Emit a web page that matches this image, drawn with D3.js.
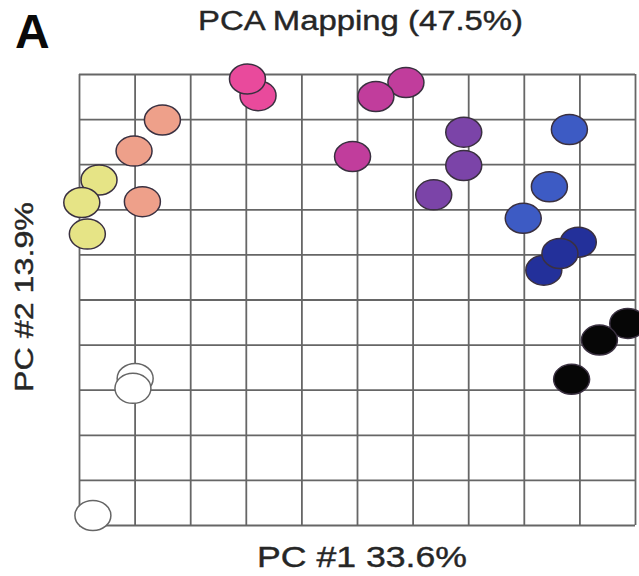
<!DOCTYPE html>
<html>
<head>
<meta charset="utf-8">
<script src="https://cdn.jsdelivr.net/npm/d3@7"></script>
<style>
  html, body { margin: 0; padding: 0; background: #fff; }
  svg { display: block; }
  text { font-family: "Liberation Sans", Arial, Helvetica, sans-serif; }
</style>
</head>
<body>
<svg id="chart" width="639" height="576"></svg>
<script>
// Sample groups and their fill colours
const groupNames  = ["pink", "salmon", "yellow", "magenta", "purple", "blue", "navy", "black", "white"];
const groupColors = ["#e94a9c", "#eea08a", "#e6e486", "#c13d9c", "#7b44a8", "#3d5bc4", "#23309a", "#060606", "#ffffff"];

// Scores per sample (grid units), listed in drawing order
const sampleGroup = [0, 0, 1, 1, 1, 2, 2, 2, 3, 3, 3, 4, 4, 4, 5, 5, 5, 6, 6, 6, 7, 7, 7, 8, 8, 8];
const pc1Scores   = [3.22, 3.03, 1.50, 0.99, 1.14, 0.36, 0.05, 0.15, 5.88, 5.34, 4.92, 6.92, 6.92, 6.38, 8.82, 8.46, 7.99, 8.98, 8.36, 8.65, 9.87, 9.36, 8.86, 1.01, 0.97, 0.25];
const pc2Scores   = [9.52, 9.89, 8.98, 8.29, 7.17, 7.65, 7.15, 6.45, 9.81, 9.50, 8.17, 8.71, 7.97, 7.32, 8.77, 7.50, 6.80, 6.27, 5.65, 6.02, 4.47, 4.10, 3.23, 3.25, 3.03, 0.21];

const gridTicks = d3.range(0, 11);

const titleText = "PCA Mapping (47.5%)";
const xLabel = "PC #1 33.6%";
const yLabel = "PC #2 13.9%";
const panelLabel = "A";

const svg = d3.select("#chart");
const plot = { left: 79, right: 635, top: 74, bottom: 525 };

const x = d3.scaleLinear().domain([0, 10]).range([plot.left, plot.right]);
const y = d3.scaleLinear().domain([0, 10]).range([plot.bottom, plot.top]);

// Grid drawn via axes with full-length ticks and no labels
const gridColor = "#666666";
const gx = svg.append("g")
  .attr("transform", `translate(0,${plot.bottom})`)
  .call(d3.axisBottom(x).tickValues(gridTicks).tickSize(-(plot.bottom - plot.top)).tickFormat(""));
const gy = svg.append("g")
  .attr("transform", `translate(${plot.left},0)`)
  .call(d3.axisLeft(y).tickValues(gridTicks).tickSize(-(plot.right - plot.left)).tickFormat(""));
[gx, gy].forEach(g => {
  g.select(".domain").remove();
  g.selectAll(".tick line").attr("stroke", gridColor).attr("stroke-width", 1.8);
});

// Sample points as ellipses
const points = sampleGroup.map((g, i) => ({ g, pc1: pc1Scores[i], pc2: pc2Scores[i] }));
svg.append("g")
  .selectAll("ellipse")
  .data(points)
  .join("ellipse")
  .attr("cx", d => x(d.pc1))
  .attr("cy", d => y(d.pc2))
  .attr("rx", 18)
  .attr("ry", 15)
  .attr("fill", d => groupColors[d.g])
  .attr("stroke", d => groupNames[d.g] === "white" ? "#666666" : "#3a3040")
  .attr("stroke-width", 1.5);

// Titles
svg.append("text")
  .attr("x", 15).attr("y", 48)
  .attr("font-size", 48).attr("font-weight", "bold")
  .attr("fill", "#0a0a0a")
  .text(panelLabel);

const labelStyle = sel => sel
  .attr("fill", "#262626")
  .attr("stroke", "#262626")
  .attr("stroke-width", 0.4)
  .attr("lengthAdjust", "spacingAndGlyphs");

svg.append("text")
  .attr("x", 198).attr("y", 30)
  .attr("font-size", 27)
  .attr("textLength", 325)
  .call(labelStyle)
  .text(titleText);

svg.append("text")
  .attr("x", 257).attr("y", 567)
  .attr("font-size", 29)
  .attr("textLength", 210)
  .call(labelStyle)
  .text(xLabel);

svg.append("text")
  .attr("transform", "translate(33,392) rotate(-90)")
  .attr("x", 0).attr("y", 0)
  .attr("font-size", 26)
  .attr("textLength", 190)
  .call(labelStyle)
  .text(yLabel);
</script>
</body>
</html>
